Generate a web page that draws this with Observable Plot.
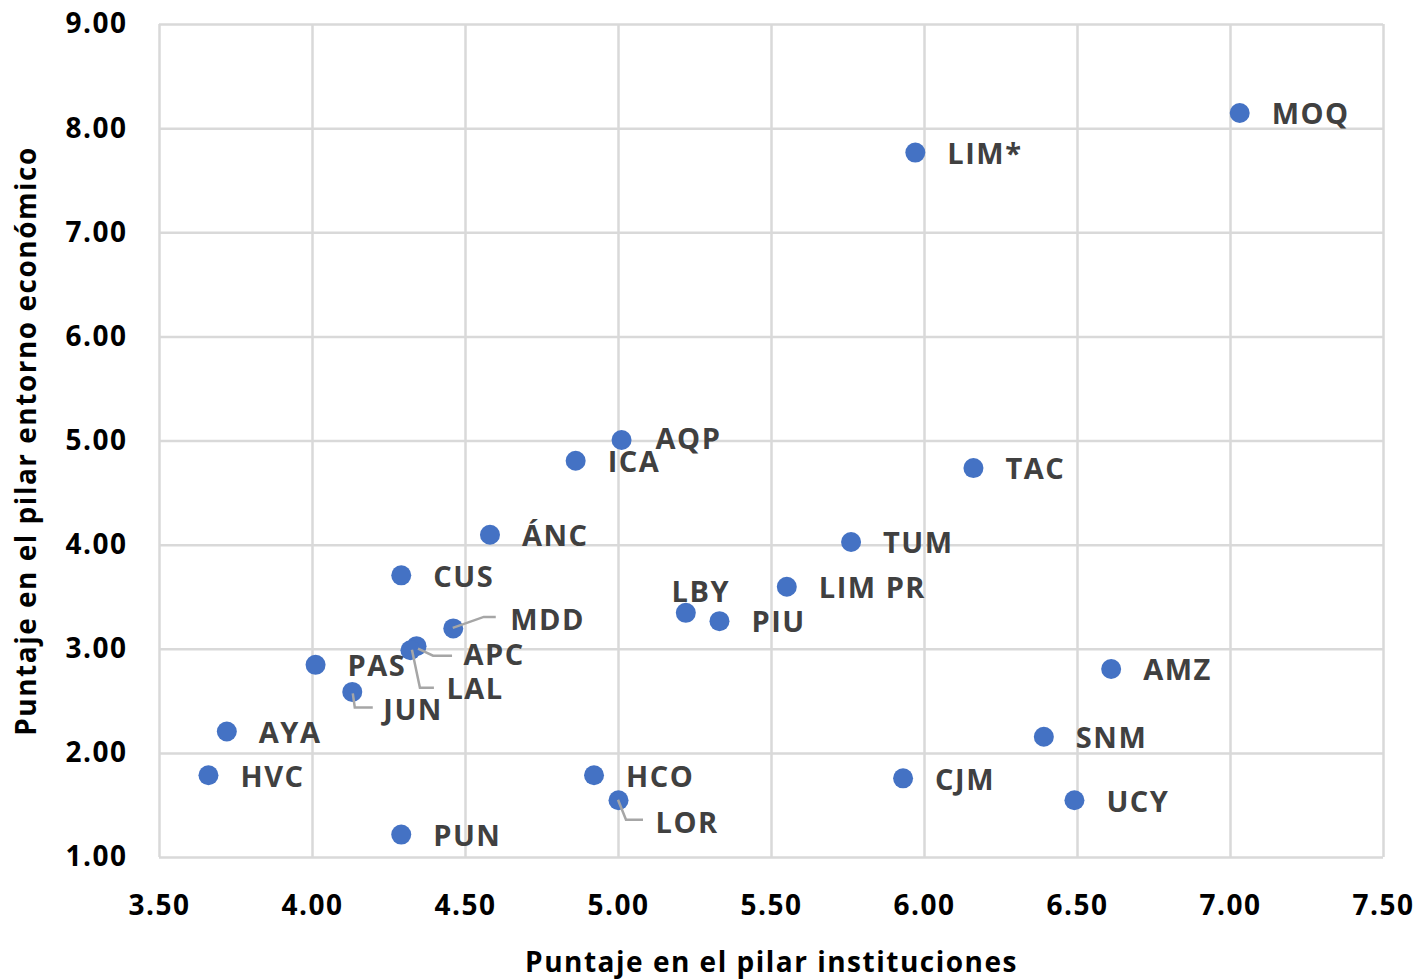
<!DOCTYPE html>
<html>
<head>
<meta charset="utf-8">
<script src="https://cdn.jsdelivr.net/npm/d3@7"></script>
<script src="https://cdn.jsdelivr.net/npm/@observablehq/plot@0.6"></script>
<style>
  html, body { margin: 0; padding: 0; background: #fff; }
</style>
</head>
<body>
<div id="chart"></div>
<script>
// ---- Data ----
const regions = ["MOQ","LIM*","AQP","ICA","TAC","ÁNC","TUM","CUS","LIM PR","LBY","PIU","MDD","APC","LAL","PAS","AMZ","JUN","AYA","SNM","HVC","HCO","CJM","LOR","UCY","PUN"];
const instituciones = [7.03,5.97,5.01,4.86,6.16,4.58,5.76,4.29,5.55,5.22,5.33,4.46,4.34,4.32,4.01,6.61,4.13,3.72,6.39,3.66,4.92,5.93,5.00,6.49,4.29];
const entorno = [8.15,7.77,5.01,4.81,4.74,4.10,4.03,3.71,3.60,3.35,3.27,3.20,3.03,2.99,2.85,2.81,2.59,2.21,2.16,1.79,1.79,1.76,1.55,1.55,1.22];
const xTicks = [3.5,4.0,4.5,5.0,5.5,6.0,6.5,7.0,7.5];
const yTicks = [1,2,3,4,5,6,7,8,9];
const xTitle = "Puntaje en el pilar instituciones";
const yTitle = "Puntaje en el pilar entorno económico";

const data = regions.map((r, i) => ({region: r, x: instituciones[i], y: entorno[i]}));

// ---- Label placement (pixel offsets from each point) ----
const defaultOffset = {dx: 32, dy: 2, anchor: "start"};
const labelOffsets = {
  "AQP": {dx: 34, dy: 0, anchor: "start"},
  "LBY": {dx: 15, dy: -20, anchor: "middle"},
  "MDD": {dx: 57, dy: -8, anchor: "start"},
  "APC": {dx: 47, dy: 10, anchor: "start"},
  "LAL": {dx: 36, dy: 39, anchor: "start"},
  "JUN": {dx: 31, dy: 19, anchor: "start"},
  "LOR": {dx: 37, dy: 23, anchor: "start"}
};
// leader lines: polyline vertices in pixel offsets from the point
const leaderPaths = {
  "MDD": [[0,0],[31,-11],[43,-11]],
  "APC": [[2,3],[17,10],[36,10]],
  "LAL": [[2,0],[10,38],[24,38]],
  "JUN": [[1,2],[3,16],[21,16]],
  "LOR": [[0,0],[8,20],[25,20]]
};

const labelColor = "#404040";
const dotColor = "#4472C4";
const gridColor = "#d9d9d9";

function leaders(index, scales) {
  const g = d3.create("svg:g");
  for (const d of data) {
    const path = leaderPaths[d.region];
    if (!path) continue;
    const px = scales.x(d.x), py = scales.y(d.y);
    g.append("path")
      .attr("d", d3.line()(path.map(([ox, oy]) => [px + ox, py + oy])))
      .attr("fill", "none")
      .attr("stroke", "#a6a6a6")
      .attr("stroke-width", 2.5);
  }
  return g.node();
}

const labelMarks = data.map(d => {
  const o = labelOffsets[d.region] || defaultOffset;
  return Plot.text([d], {
    x: "x", y: "y", text: "region",
    dx: o.dx, dy: o.dy, textAnchor: o.anchor,
    fill: labelColor, fontSize: 29, fontWeight: "bold"
  });
});

const chart = Plot.plot({
  width: 1422,
  height: 980,
  marginLeft: 159,
  marginRight: 39,
  marginTop: 24,
  marginBottom: 123,
  x: {domain: [3.5, 7.5]},
  y: {domain: [1, 9]},
  style: {fontFamily: "'Open Sans', sans-serif", fontWeight: "bold", letterSpacing: "1.5px", background: "#fff", overflow: "visible"},
  marks: [
    Plot.gridX(xTicks, {stroke: gridColor, strokeOpacity: 1, strokeWidth: 2.5}),
    Plot.gridY(yTicks, {stroke: gridColor, strokeOpacity: 1, strokeWidth: 2.5}),
    Plot.axisX(xTicks, {tickFormat: d3.format(".2f"), tickSize: 0, tickPadding: 38, fontSize: 28, fontWeight: "bold", fill: "#000", label: null}),
    Plot.axisY(yTicks, {tickFormat: d3.format(".2f"), tickSize: 0, tickPadding: 32, fontSize: 28, fontWeight: "bold", fill: "#000", label: null}),
    Plot.dot(data, {x: "x", y: "y", r: 10, fill: dotColor, stroke: "none"}),
    leaders,
    ...labelMarks,
    Plot.text([xTitle], {frameAnchor: "bottom", lineAnchor: "middle", dy: 106, fontSize: 28, fontWeight: "bold", fill: "#000"}),
    Plot.text([yTitle], {frameAnchor: "left", textAnchor: "middle", lineAnchor: "middle", dx: -132, rotate: -90, fontSize: 28, fontWeight: "bold", fill: "#000"})
  ]
});
document.getElementById("chart").appendChild(chart);
</script>
</body>
</html>
